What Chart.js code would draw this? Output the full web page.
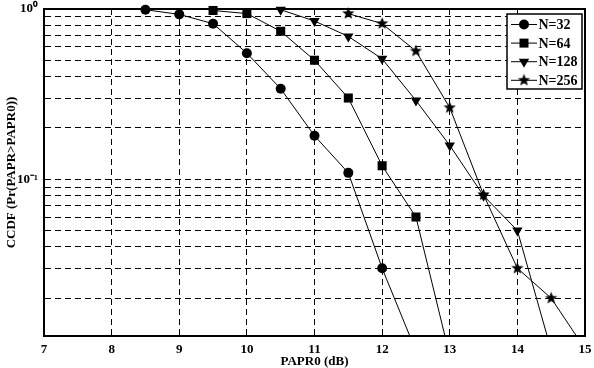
<!DOCTYPE html>
<html>
<head>
<meta charset="utf-8">
<style>html,body{margin:0;padding:0;background:#fff}</style>
<script src="https://cdn.jsdelivr.net/npm/chart.js@4.4.0/dist/chart.umd.min.js"></script>
</head>
<body>
<canvas id="ccdf" width="594" height="368"></canvas>
<script>
// values
let seriesNames = ["N=32", "N=64", "N=128", "N=256"];
let papr32 = [8.5, 9, 9.5, 10, 10.5, 11, 11.5, 12, 12.5];
let ccdf32 = [0.99, 0.93, 0.82, 0.55, 0.34, 0.18, 0.109, 0.030, 0.0098];
let papr64 = [9.5, 10, 10.5, 11, 11.5, 12, 12.5, 13];
let ccdf64 = [0.98, 0.94, 0.74, 0.50, 0.30, 0.12, 0.06, 0.0092];
let papr128 = [10.5, 11, 11.5, 12, 12.5, 13, 13.5, 14, 14.5];
let ccdf128 = [0.99, 0.85, 0.69, 0.51, 0.29, 0.158, 0.080, 0.05, 0.0099];
let papr256 = [11.5, 12, 12.5, 13, 13.5, 14, 14.5, 15];
let ccdf256 = [0.94, 0.82, 0.566, 0.263, 0.081, 0.030, 0.020, 0.0101];
let yTicks = [0.02, 0.03, 0.04, 0.05, 0.06, 0.07, 0.08, 0.09, 0.1,
              0.2, 0.3, 0.4, 0.5, 0.6, 0.7, 0.8, 0.9, 1];

let serif = "'Liberation Serif', 'Times New Roman', serif";

function makeStar(r) {
    let c = document.createElement('canvas');
    let s = Math.ceil(r * 2) + 2;
    c.width = s; c.height = s;
    let g = c.getContext('2d');
    g.translate(s / 2, s / 2);
    g.beginPath();
    for (let i = 0; i < 10; i++) {
        let rad = i % 2 ? r * 0.42 : r;
        let a = -Math.PI / 2 + i * Math.PI / 5;
        g.lineTo(rad * Math.cos(a), rad * Math.sin(a));
    }
    g.closePath();
    g.fillStyle = '#000';
    g.fill();
    return c;
}
let star = makeStar(6.5);

function pts(xs, ys) {
    return xs.map((x, i) => ({x: x, y: ys[i]}));
}

function series(label, xs, ys, style, radius, rot) {
    return {
        label: label,
        data: pts(xs, ys),
        borderColor: '#000',
        borderWidth: 1,
        backgroundColor: '#000',
        pointBackgroundColor: '#000',
        pointBorderColor: '#000',
        pointBorderWidth: 0,
        pointStyle: style,
        pointRadius: radius,
        pointRotation: rot || 0,
        tension: 0,
        clip: {left: 8, top: 8, right: 8, bottom: 0}
    };
}

// solid frame round the plot area
let frame = {
    id: 'frame',
    beforeDatasetsDraw(chart) {
        let ctx = chart.ctx, a = chart.chartArea;
        ctx.save();
        ctx.strokeStyle = '#000';
        ctx.lineWidth = 2;
        ctx.strokeRect(a.left, a.top, a.right - a.left, a.bottom - a.top);
        ctx.restore();
    }
};

function marker(ctx, kind, x, y) {
    ctx.beginPath();
    if (kind === 'circle') {
        ctx.arc(x, y, 5, 0, Math.PI * 2);
        ctx.fill();
    } else if (kind === 'rect') {
        ctx.fillRect(x - 4.5, y - 4.5, 9, 9);
    } else if (kind === 'triangle') {
        ctx.moveTo(x - 5.2, y - 3);
        ctx.lineTo(x + 5.2, y - 3);
        ctx.lineTo(x, y + 6);
        ctx.closePath();
        ctx.fill();
    } else {
        ctx.drawImage(star, x - star.width / 2, y - star.height / 2);
    }
}

// legend box inside the plot, top right
let boxLegend = {
    id: 'boxLegend',
    afterDraw(chart) {
        let ctx = chart.ctx, a = chart.chartArea;
        let x0 = a.right - 78, y0 = a.top + 5;
        let kinds = ['circle', 'rect', 'triangle', 'star'];
        ctx.save();
        ctx.fillStyle = '#fff';
        ctx.fillRect(x0, y0, 75, 75);
        ctx.strokeStyle = '#000';
        ctx.lineWidth = 1.5;
        ctx.strokeRect(x0, y0, 75, 75);
        ctx.font = "bold 14px " + serif;
        ctx.textAlign = 'left';
        ctx.textBaseline = 'middle';
        seriesNames.forEach((name, i) => {
            let y = y0 + 10.5 + i * 18.6;
            ctx.lineWidth = 1;
            ctx.beginPath();
            ctx.moveTo(x0 + 4, y);
            ctx.lineTo(x0 + 30, y);
            ctx.stroke();
            ctx.fillStyle = '#000';
            marker(ctx, kinds[i], x0 + 17, y);
            ctx.fillText(name, x0 + 31.5, y + 1);
        });
        ctx.restore();
    }
};

let ccdfChart = new Chart(document.getElementById('ccdf'), {
    type: 'line',
    data: {
        datasets: [
            series(seriesNames[0], papr32, ccdf32, 'circle', 5),
            series(seriesNames[1], papr64, ccdf64, 'rect', 6.4),
            series(seriesNames[2], papr128, ccdf128, 'triangle', 6, 180),
            series(seriesNames[3], papr256, ccdf256, star, 6)
        ]
    },
    options: {
        responsive: false,
        animation: false,
        layout: {padding: {left: 0, right: 9, top: 9, bottom: 0}},
        plugins: {
            legend: {display: false},
            tooltip: {enabled: false}
        },
        scales: {
            x: {
                type: 'linear',
                min: 7,
                max: 15,
                afterFit: s => { s.height = 32; s.paddingLeft = 0; s.paddingRight = 0; },
                ticks: {
                    stepSize: 1,
                    padding: 6,
                    color: '#000',
                    font: {family: serif, size: 13, weight: 'bold'}
                },
                grid: {color: '#000', lineWidth: 1, drawTicks: false},
                border: {color: '#000', width: 2, dash: [6, 4]},
                title: {
                    display: true,
                    text: 'PAPR0 (dB)',
                    color: '#000',
                    padding: {top: 0, bottom: 0},
                    font: {family: serif, size: 13, weight: 'bold', lineHeight: 1}
                }
            },
            y: {
                type: 'logarithmic',
                min: 0.012,
                max: 1,
                afterFit: s => { s.width = 44; s.paddingTop = 0; s.paddingBottom = 0; },
                afterBuildTicks: s => { s.ticks = yTicks.map(v => ({value: v})); },
                ticks: {
                    padding: 6,
                    color: '#000',
                    font: {family: serif, size: 13, weight: 'bold'},
                    callback: v => {
                        if (Math.abs(v - 1) < 1e-9) return '10\u2070';
                        if (Math.abs(v - 0.1) < 1e-9) return '10\u207B\u00B9';
                        return '';
                    }
                },
                grid: {color: '#000', lineWidth: 1, drawTicks: false},
                border: {color: '#000', width: 2, dash: [6, 4]},
                title: {
                    display: true,
                    text: 'CCDF (Pr(PAPR>PAPR0))',
                    color: '#000',
                    padding: {top: 4, bottom: 0},
                    font: {family: serif, size: 13, weight: 'bold'}
                }
            }
        }
    },
    plugins: [frame, boxLegend]
});
</script>
</body>
</html>
